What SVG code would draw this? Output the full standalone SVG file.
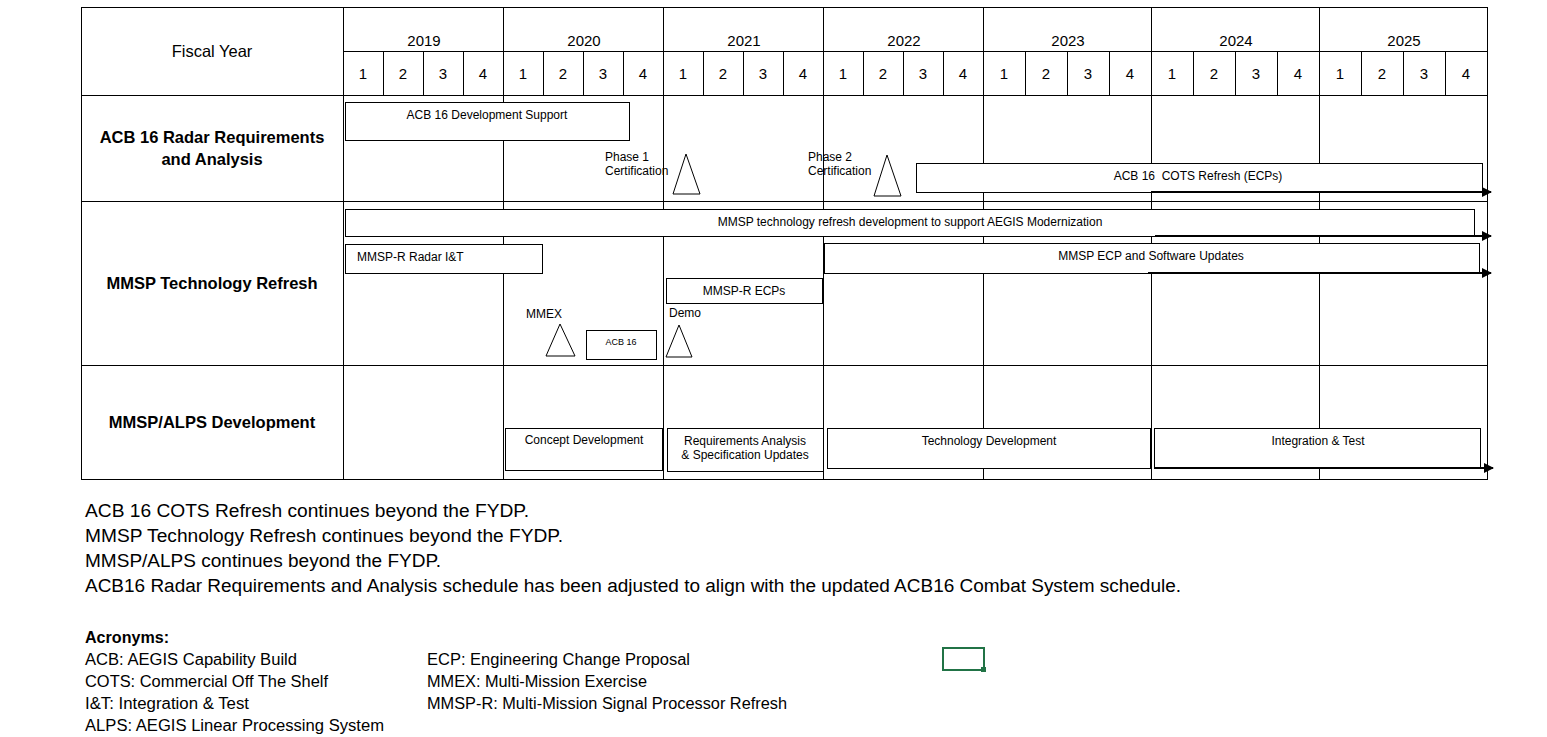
<svg xmlns="http://www.w3.org/2000/svg" width="1547" height="737" viewBox="0 0 1547 737">
<defs>
<style>
.g{stroke:#000;stroke-width:1;fill:none}
.bar{fill:#fff;stroke:#000;stroke-width:1}
.t{font-family:"Liberation Sans",Arial,sans-serif;fill:#000}
.h{font-size:15px;text-anchor:middle}
.b{font-size:12px}
.c{text-anchor:middle}
.rl{font-size:16.5px;font-weight:bold;text-anchor:middle}
.n{font-size:18px}
.a{font-size:16px}
.arr{stroke:#000;stroke-width:2;fill:none;marker-end:url(#ah)}
</style>
<marker id="ah" viewBox="0 0 10 10" refX="9" refY="5" markerWidth="5" markerHeight="5" orient="auto" markerUnits="strokeWidth">
<path d="M0,0 L10,5 L0,10 z" fill="#000"/>
</marker>
</defs>
<rect width="1547" height="737" fill="#fff"/>
<g id="table">
<rect class="g" x="81.5" y="7.5" width="1406" height="472"/>
<line class="g" x1="343.5" y1="7" x2="343.5" y2="480"/>
<line class="g" x1="343" y1="51.5" x2="1487" y2="51.5"/>
<line class="g" x1="81" y1="95.5" x2="1487" y2="95.5"/>
<line class="g" x1="81" y1="201.5" x2="1487" y2="201.5"/>
<line class="g" x1="81" y1="365.5" x2="1487" y2="365.5"/>
<path class="g" d="M503.5,7V480M663.5,7V480M823.5,7V480M983.5,7V480M1151.5,7V480M1319.5,7V480"/>
<path class="g" d="M383.5,51V95M423.5,51V95M463.5,51V95M543.5,51V95M583.5,51V95M623.5,51V95M703.5,51V95M743.5,51V95M783.5,51V95M863.5,51V95M903.5,51V95M943.5,51V95M1025.5,51V95M1067.5,51V95M1109.5,51V95M1193.5,51V95M1235.5,51V95M1277.5,51V95M1361.5,51V95M1403.5,51V95M1445.5,51V95"/>
<text class="t c" x="212" y="57" font-size="16.5">Fiscal Year</text>
<g class="t h">
<text x="424" y="46">2019</text><text x="584" y="46">2020</text><text x="744" y="46">2021</text><text x="904" y="46">2022</text><text x="1068" y="46">2023</text><text x="1236" y="46">2024</text><text x="1404" y="46">2025</text>
<text x="363" y="79">1</text><text x="403" y="79">2</text><text x="443" y="79">3</text><text x="483" y="79">4</text>
<text x="523" y="79">1</text><text x="563" y="79">2</text><text x="603" y="79">3</text><text x="643" y="79">4</text>
<text x="683" y="79">1</text><text x="723" y="79">2</text><text x="763" y="79">3</text><text x="803" y="79">4</text>
<text x="843" y="79">1</text><text x="883" y="79">2</text><text x="923" y="79">3</text><text x="963" y="79">4</text>
<text x="1004" y="79">1</text><text x="1046" y="79">2</text><text x="1088" y="79">3</text><text x="1130" y="79">4</text>
<text x="1172" y="79">1</text><text x="1214" y="79">2</text><text x="1256" y="79">3</text><text x="1298" y="79">4</text>
<text x="1340" y="79">1</text><text x="1382" y="79">2</text><text x="1424" y="79">3</text><text x="1466" y="79">4</text>
</g>
<text class="t rl" x="212" y="143">ACB 16 Radar Requirements</text>
<text class="t rl" x="212" y="165">and Analysis</text>
<text class="t rl" x="212" y="289">MMSP Technology Refresh</text>
<text class="t rl" x="212" y="428">MMSP/ALPS Development</text>
</g>
<g id="acb16-dev-support">
<rect class="bar" x="345.5" y="102.5" width="284" height="38"/>
<text class="t b c" x="487" y="119">ACB 16 Development Support</text>
</g>
<g id="phase1">
<text class="t b" x="605" y="161">Phase 1</text>
<text class="t b" x="605" y="175">Certification</text>
<path class="bar" d="M686,154 L673,194 L700,194 Z"/>
</g>
<g id="phase2">
<text class="t b" x="808" y="161">Phase 2</text>
<text class="t b" x="808" y="175">Certification</text>
<path class="bar" d="M887,155 L874,196 L901,196 Z"/>
</g>
<g id="cots-refresh">
<rect class="bar" x="916.5" y="163.5" width="566" height="29"/>
<text class="t b c" x="1198" y="180" style="white-space:pre">ACB 16  COTS Refresh (ECPs)</text>
</g>
<g id="mmsp-tech-refresh">
<rect class="bar" x="345.5" y="209.5" width="1129" height="27"/>
<text class="t b c" x="910" y="226">MMSP technology refresh development to support AEGIS Modernization</text>
</g>
<g id="mmsp-r-radar">
<rect class="bar" x="345.5" y="244.5" width="197" height="29"/>
<text class="t b" x="357" y="261">MMSP-R Radar I&amp;T</text>
</g>
<g id="mmsp-ecp-sw">
<rect class="bar" x="824.5" y="243.5" width="655" height="30"/>
<text class="t b c" x="1151" y="260">MMSP ECP and Software Updates</text>
</g>
<g id="mmsp-r-ecps">
<rect class="bar" x="666.5" y="278.5" width="156" height="25"/>
<text class="t b c" x="744" y="295">MMSP-R ECPs</text>
</g>
<g id="mmex">
<text class="t b" x="526" y="318">MMEX</text>
<path class="bar" d="M560,324 L546,356 L575,356 Z"/>
</g>
<g id="acb16-box">
<rect class="bar" x="586.5" y="330.5" width="70" height="29"/>
<text class="t c" x="621" y="345" font-size="9">ACB 16</text>
</g>
<g id="demo">
<text class="t b" x="669" y="317">Demo</text>
<path class="bar" d="M679,325 L666,357 L692,357 Z"/>
</g>
<g id="concept-dev">
<rect class="bar" x="505.5" y="428.5" width="157" height="42"/>
<text class="t b c" x="584" y="444">Concept Development</text>
</g>
<g id="req-analysis">
<rect class="bar" x="667.5" y="428.5" width="156" height="43"/>
<text class="t b c" x="745" y="445">Requirements Analysis</text>
<text class="t b c" x="745" y="459">&amp; Specification Updates</text>
</g>
<g id="tech-dev">
<rect class="bar" x="827.5" y="428.5" width="323" height="40"/>
<text class="t b c" x="989" y="445">Technology Development</text>
</g>
<g id="int-test">
<rect class="bar" x="1154.5" y="428.5" width="326" height="39"/>
<text class="t b c" x="1318" y="445">Integration &amp; Test</text>
</g>
<g id="connectors">
<line class="arr" x1="1151" y1="192" x2="1491" y2="192"/>
<line class="arr" x1="1155" y1="236" x2="1491" y2="236"/>
<line class="arr" x1="1148" y1="273" x2="1491" y2="273"/>
<line class="arr" x1="1154" y1="468" x2="1493" y2="468"/>
</g>
<g id="notes" class="t n">
<text x="85" y="517" textLength="444" lengthAdjust="spacingAndGlyphs">ACB 16 COTS Refresh continues beyond the FYDP.</text>
<text x="85" y="542" textLength="478" lengthAdjust="spacingAndGlyphs">MMSP Technology Refresh continues beyond the FYDP.</text>
<text x="85" y="567" textLength="356" lengthAdjust="spacingAndGlyphs">MMSP/ALPS continues beyond the FYDP.</text>
<text x="85" y="592" textLength="1096" lengthAdjust="spacingAndGlyphs">ACB16 Radar Requirements and Analysis schedule has been adjusted to align with the updated ACB16 Combat System schedule.</text>
</g>
<g id="acronyms" class="t a">
<text x="85" y="643" font-weight="bold" textLength="84" lengthAdjust="spacingAndGlyphs">Acronyms:</text>
<text x="85" y="665" textLength="212" lengthAdjust="spacingAndGlyphs">ACB: AEGIS Capability Build</text>
<text x="85" y="687" textLength="243" lengthAdjust="spacingAndGlyphs">COTS: Commercial Off The Shelf</text>
<text x="85" y="709" textLength="164" lengthAdjust="spacingAndGlyphs">I&amp;T: Integration &amp; Test</text>
<text x="85" y="731" textLength="299" lengthAdjust="spacingAndGlyphs">ALPS: AEGIS Linear Processing System</text>
<text x="427" y="665" textLength="263" lengthAdjust="spacingAndGlyphs">ECP: Engineering Change Proposal</text>
<text x="427" y="687" textLength="220" lengthAdjust="spacingAndGlyphs">MMEX: Multi-Mission Exercise</text>
<text x="427" y="709" textLength="360" lengthAdjust="spacingAndGlyphs">MMSP-R: Multi-Mission Signal Processor Refresh</text>
</g>
<g id="selection">
<rect x="943" y="648" width="41" height="22" fill="none" stroke="#217346" stroke-width="2"/>
<rect x="981" y="667" width="5" height="5" fill="#217346"/>
</g>
</svg>
